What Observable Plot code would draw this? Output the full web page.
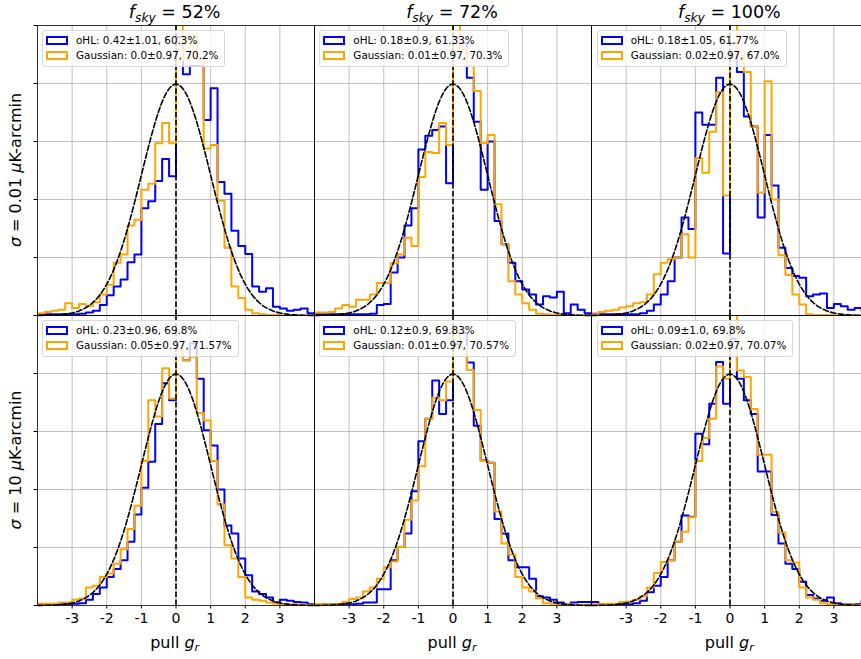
<!DOCTYPE html>
<html><head><meta charset="utf-8">
<script src="https://cdn.jsdelivr.net/npm/d3@7"></script>
<script src="https://cdn.jsdelivr.net/npm/@observablehq/plot@0.6"></script>
<style>
html,body{margin:0;padding:0;background:#fff;overflow:hidden;}
#wrap{position:relative;width:861px;height:659px;overflow:hidden;font-family:"DejaVu Sans",sans-serif;color:#000;}
#wrap svg{max-width:none !important;position:absolute;left:0;top:0;}
.ttl{position:absolute;text-align:center;font-size:17.5px;white-space:nowrap;line-height:20px;}
.xl{position:absolute;text-align:center;font-size:16px;white-space:nowrap;line-height:20px;}
.yl{position:absolute;font-size:16px;white-space:nowrap;line-height:20px;transform:translate(-50%,-50%) rotate(-90deg);}
sub{font-size:0.7em;vertical-align:-0.3em;line-height:0;}
.leg{position:absolute;background:rgba(255,255,255,0.8);border:1px solid #d8d8d8;border-radius:3px;padding:2px 6px 3px 3px;font-size:10.4px;line-height:15px;white-space:nowrap;}
.sw{display:inline-block;width:18px;height:5px;border:2px solid;margin-right:8px;vertical-align:-1px;background:#fff;}
</style></head>
<body><div id="wrap"></div>
<script>
// ---- data ----
const colKeys = ["52%", "72%", "100%"];
const rowKeys = ["0.01", "10"];
const binStart = -4, binWidth = 0.2;
const xTicks = [-3, -2, -1, 0, 1, 2, 3];
const yTicks = [0, 0.1, 0.2, 0.3, 0.4, 0.5];

const ohl_52_001 = [0.001,0.002,0.002,0.002,0.002,0.002,0.003,0.005,0.008,0.018,
 0.035,0.050,0.062,0.092,0.105,0.185,0.197,0.232,0.270,0.240,
 0.480,0.416,0.430,0.430,0.337,0.392,0.230,0.210,0.146,0.120,
 0.106,0.050,0.041,0.047,0.015,0.012,0.008,0.010,0.012,0.004];
const gau_52_001 = [0.004,0.006,0.008,0.010,0.021,0.013,0.020,0.016,0.023,0.036,
 0.053,0.091,0.105,0.155,0.165,0.217,0.227,0.297,0.332,0.297,
 0.600,0.440,0.482,0.442,0.288,0.294,0.198,0.117,0.050,0.030,
 0.010,0.004,0.002,0.001,0.001,0.000,0.000,0.000,0.000,0.000];
const ohl_72_001 = [0.002,0.002,0.002,0.002,0.002,0.002,0.002,0.002,0.003,0.018,
 0.020,0.074,0.100,0.155,0.185,0.286,0.310,0.320,0.326,0.228,
 0.480,0.470,0.410,0.334,0.217,0.300,0.163,0.123,0.091,0.059,
 0.045,0.036,0.019,0.033,0.031,0.041,0.004,0.019,0.010,0.004];
const gau_72_001 = [0.005,0.005,0.006,0.012,0.018,0.015,0.027,0.027,0.036,0.056,
 0.056,0.090,0.105,0.134,0.120,0.239,0.282,0.280,0.332,0.294,
 0.600,0.460,0.430,0.387,0.297,0.311,0.192,0.123,0.059,0.036,
 0.021,0.010,0.003,0.002,0.001,0.001,0.000,0.000,0.000,0.000];
const ohl_100_001 = [0.003,0.002,0.002,0.002,0.002,0.002,0.002,0.004,0.008,0.019,
 0.036,0.059,0.100,0.169,0.149,0.350,0.329,0.329,0.410,0.107,
 0.470,0.420,0.343,0.326,0.169,0.311,0.224,0.117,0.082,0.068,
 0.065,0.033,0.036,0.038,0.013,0.020,0.016,0.010,0.013,0.008];
const gau_100_001 = [0.002,0.006,0.008,0.010,0.014,0.016,0.021,0.023,0.036,0.071,
 0.091,0.097,0.100,0.140,0.100,0.271,0.246,0.317,0.385,0.207,
 0.600,0.450,0.420,0.326,0.212,0.404,0.200,0.104,0.070,0.036,
 0.019,0.002,0.001,0.001,0.001,0.000,0.000,0.000,0.000,0.000];
const ohl_52_10 = [0.002,0.002,0.002,0.002,0.002,0.003,0.004,0.010,0.020,0.031,
 0.049,0.063,0.078,0.110,0.157,0.203,0.248,0.313,0.383,0.354,
 0.442,0.423,0.452,0.391,0.302,0.276,0.200,0.138,0.124,0.081,
 0.052,0.024,0.020,0.014,0.005,0.010,0.008,0.006,0.005,0.002];
const gau_52_10 = [0.003,0.003,0.003,0.005,0.005,0.010,0.012,0.031,0.034,0.049,
 0.055,0.072,0.097,0.132,0.172,0.249,0.354,0.326,0.409,0.357,
 0.442,0.423,0.429,0.332,0.319,0.249,0.174,0.104,0.081,0.049,
 0.014,0.010,0.008,0.005,0.003,0.002,0.002,0.002,0.001,0.001];
const ohl_72_10 = [0.001,0.002,0.002,0.002,0.002,0.002,0.003,0.005,0.005,0.028,
 0.028,0.078,0.101,0.124,0.197,0.283,0.322,0.388,0.330,0.354,
 0.450,0.470,0.419,0.310,0.250,0.246,0.149,0.124,0.078,0.066,
 0.066,0.046,0.016,0.014,0.010,0.005,0.002,0.005,0.006,0.006];
const gau_72_10 = [0.002,0.002,0.002,0.002,0.006,0.011,0.014,0.024,0.031,0.046,
 0.066,0.076,0.101,0.148,0.181,0.240,0.322,0.358,0.354,0.386,
 0.470,0.446,0.406,0.337,0.249,0.246,0.162,0.107,0.088,0.049,
 0.031,0.024,0.012,0.004,0.003,0.002,0.002,0.001,0.001,0.001];
const ohl_100_10 = [0.006,0.002,0.002,0.002,0.002,0.002,0.004,0.008,0.023,0.034,
 0.049,0.078,0.110,0.155,0.153,0.296,0.278,0.348,0.420,0.348,
 0.460,0.391,0.354,0.330,0.231,0.231,0.156,0.107,0.072,0.063,
 0.041,0.018,0.012,0.008,0.014,0.004,0.002,0.002,0.002,0.008];
const gau_100_10 = [0.002,0.002,0.003,0.003,0.006,0.007,0.010,0.016,0.031,0.056,
 0.075,0.078,0.110,0.127,0.152,0.249,0.289,0.322,0.412,0.391,
 0.530,0.405,0.394,0.339,0.260,0.260,0.161,0.126,0.078,0.074,
 0.031,0.014,0.010,0.004,0.002,0.002,0.002,0.002,0.001,0.001];

const legendOHL = ["oHL: 0.42±1.01, 60.3%", "oHL: 0.18±0.9, 61.33%", "oHL: 0.18±1.05, 61.77%",
                   "oHL: 0.23±0.96, 69.8%", "oHL: 0.12±0.9, 69.83%", "oHL: 0.09±1.0, 69.8%"];
const legendGau = ["Gaussian: 0.0±0.97, 70.2%", "Gaussian: 0.01±0.97, 70.3%", "Gaussian: 0.02±0.97, 67.0%",
                   "Gaussian: 0.05±0.97, 71.57%", "Gaussian: 0.01±0.97, 70.57%", "Gaussian: 0.02±0.97, 70.07%"];

const gaussX = [-4,-3.8,-3.6,-3.4,-3.2,-3,-2.8,-2.6,-2.4,-2.2,-2,-1.8,-1.6,-1.4,-1.2,-1,-0.8,-0.6,-0.4,-0.2,
 0,0.2,0.4,0.6,0.8,1,1.2,1.4,1.6,1.8,2,2.2,2.4,2.6,2.8,3,3.2,3.4,3.6,3.8,4];
const gaussY = [0.0001,0.0003,0.0006,0.0012,0.0024,0.0044,0.0079,0.0136,0.0224,0.0355,0.0540,0.0790,0.1109,0.1497,0.1942,0.2420,0.2897,0.3332,0.3683,0.3910,
 0.3989,0.3910,0.3683,0.3332,0.2897,0.2420,0.1942,0.1497,0.1109,0.0790,0.0540,0.0355,0.0224,0.0136,0.0079,0.0044,0.0024,0.0012,0.0006,0.0003,0.0001];

// ---- build ----
const panels = [
  {col: "52%", row: "0.01", ohl: ohl_52_001, gau: gau_52_001},
  {col: "72%", row: "0.01", ohl: ohl_72_001, gau: gau_72_001},
  {col: "100%", row: "0.01", ohl: ohl_100_001, gau: gau_100_001},
  {col: "52%", row: "10", ohl: ohl_52_10, gau: gau_52_10},
  {col: "72%", row: "10", ohl: ohl_72_10, gau: gau_72_10},
  {col: "100%", row: "10", ohl: ohl_100_10, gau: gau_100_10}
];
function stepPoints(vals, col, row) {
  const pts = [{x: binStart, y: 0, col, row}];
  vals.forEach((v, i) => pts.push({x: binStart + i * binWidth, y: v, col, row}));
  pts.push({x: binStart + vals.length * binWidth, y: 0, col, row});
  return pts;
}
const blueData = panels.flatMap(p => stepPoints(p.ohl, p.col, p.row));
const orangeData = panels.flatMap(p => stepPoints(p.gau, p.col, p.row));
const gauss = gaussX.map((x, i) => ({x, y: gaussY[i]}));

const W = 868, ML = 36, MT = 25, MB = 54, H = 659;
const facetW = (W - ML) / 3, facetH = (H - MT - MB) / 2;
const dash = "5.5,2.4";

const chart = Plot.plot({
  width: W, height: H, marginLeft: ML, marginRight: 0, marginTop: MT, marginBottom: MB,
  x: {domain: [-4, 4]},
  y: {domain: [0, 0.5]},
  fx: {domain: colKeys, padding: 0, axis: null},
  fy: {domain: rowKeys, padding: 0, axis: null},
  style: {fontFamily: "DejaVu Sans", fontSize: "14px", background: "transparent", overflow: "visible"},
  marks: [
    Plot.gridX({ticks: xTicks, stroke: "#b0b0b0", strokeOpacity: 1, strokeWidth: 0.8}),
    Plot.gridY({ticks: [0.1, 0.2, 0.3, 0.4], stroke: "#b0b0b0", strokeOpacity: 1, strokeWidth: 0.8}),
    Plot.line(blueData, {x: "x", y: "y", fx: "col", fy: "row", stroke: "blue", strokeWidth: 2, curve: "step-after", clip: true}),
    Plot.line(orangeData, {x: "x", y: "y", fx: "col", fy: "row", stroke: "orange", strokeWidth: 2, curve: "step-after", clip: true}),
    Plot.line(gauss, {x: "x", y: "y", stroke: "black", strokeWidth: 1.6, strokeDasharray: dash, curve: "natural"}),
    Plot.ruleX([0], {stroke: "black", strokeWidth: 1.6, strokeDasharray: dash}),
    Plot.frame({stroke: "black", strokeWidth: 0.8}),
    Plot.axisX({ticks: xTicks, tickFormat: d => String(d), tickSize: 3.5, tickPadding: 4, fontSize: 14, label: null}),
    Plot.axisY({ticks: yTicks, tickFormat: () => "", tickSize: 3.5, label: null})
  ]
});
const wrap = document.getElementById("wrap");
wrap.appendChild(chart);

// titles, labels, legends (HTML overlays)
const titleNums = ["52%", "72%", "100%"];
titleNums.forEach((t, c) => {
  const d = document.createElement("div");
  d.className = "ttl";
  d.style.left = (ML + c * facetW) + "px";
  d.style.width = facetW + "px";
  d.style.top = "2px";
  d.innerHTML = `<i>f</i><sub><i>sky</i></sub> = ${t}`;
  wrap.appendChild(d);
  const x = document.createElement("div");
  x.className = "xl";
  x.style.left = (ML + c * facetW) + "px";
  x.style.width = facetW + "px";
  x.style.top = "633px";
  x.innerHTML = `pull <i>g</i><sub><i>r</i></sub>`;
  wrap.appendChild(x);
});
rowKeys.forEach((r, i) => {
  const d = document.createElement("div");
  d.className = "yl";
  d.style.left = "16px";
  d.style.top = (MT + i * facetH + facetH / 2) + "px";
  d.innerHTML = `<i>σ</i> = ${r} <i>μ</i>K-arcmin`;
  wrap.appendChild(d);
});
panels.forEach((p, k) => {
  const c = colKeys.indexOf(p.col), r = rowKeys.indexOf(p.row);
  const d = document.createElement("div");
  d.className = "leg";
  d.style.left = (ML + c * facetW + 6) + "px";
  d.style.top = (MT + r * facetH + 5) + "px";
  d.innerHTML = `<div><span class="sw" style="border-color:blue"></span>${legendOHL[k]}</div>` +
                `<div><span class="sw" style="border-color:orange"></span>${legendGau[k]}</div>`;
  wrap.appendChild(d);
});
</script></body></html>
